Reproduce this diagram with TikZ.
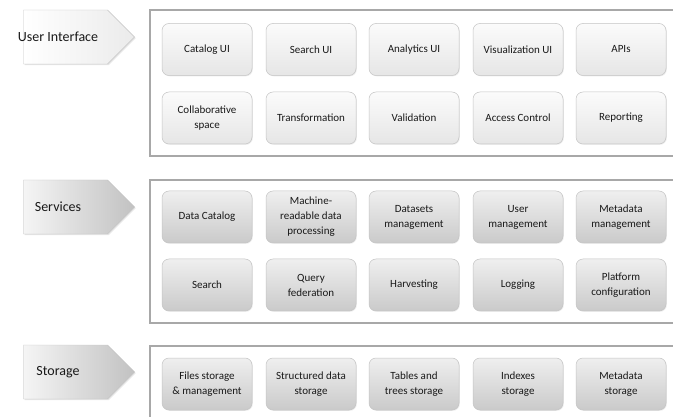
\documentclass[tikz,border=0pt]{standalone}
\usepackage{fontspec}
\setmainfont{Carlito}
\usepackage{tikz}
\usetikzlibrary{shapes.symbols, shadows, positioning}

\definecolor{panelgray}{HTML}{A8A8A8}
\definecolor{boxedge}{HTML}{C4C4C4}
\definecolor{uitop}{HTML}{FBFBFB}
\definecolor{uibot}{HTML}{E6E6E6}
\definecolor{svtop}{HTML}{EFEFEF}
\definecolor{svbot}{HTML}{CACACA}

\tikzset{
	layer arrow/.style={signal, signal to=east, signal pointer angle=90, draw=boxedge, line width=0.4pt,
		minimum width=111pt, minimum height=54pt, inner sep=0pt,
		drop shadow={opacity=0.2, shadow xshift=1.2pt, shadow yshift=-1.2pt}},
	layer label/.style={font=\fontsize{14}{16}\selectfont, inner sep=0pt, text=black!90},
	panel/.style={draw=panelgray, line width=1.4pt, fill=white},
	unit box/.style={rounded corners=7pt, draw=boxedge, line width=0.5pt,
		minimum width=90pt, minimum height=52pt, inner sep=1pt, align=center,
		font=\fontsize{11}{15}\selectfont, text=black!90,
		drop shadow={opacity=0.15, shadow xshift=0.8pt, shadow yshift=-0.8pt}},
	ui box/.style={unit box, top color=uitop, bottom color=uibot},
	sv box/.style={unit box, top color=svtop, bottom color=svbot}
}

\begin{document}
\begin{tikzpicture}[x=1pt, y=-1pt]
		\useasboundingbox (0,0) rectangle (673,417);
		\clip (0,0) rectangle (673,417);
		
		% layer arrows
		\node[layer arrow, left color=white, right color=black!8] (uiarrow) at (65.5,37) {};
		\node[layer label] (uilabel) at (58,37) {User Interface};
		
		\node[layer arrow, left color=black!4, right color=black!24] (svarrow) at (65.5,207) {};
		\node[layer label] (svlabel) at (58,207) {Services};
		
		\node[layer arrow, left color=black!4, right color=black!24] (starrow) at (65.5,372) {};
		\node[layer label] (stlabel) at (58,372) {Storage};
		
		% panels
		\draw[panel] (150,10) rectangle (690,156);
		\draw[panel] (150,180) rectangle (690,323);
		\draw[panel] (150,346) rectangle (690,440);
		
		% user interface
		\node[ui box] (catui) at (207,49.5) {Catalog UI};
		\node[ui box] (searchui) at (311,49.5) {Search UI};
		\node[ui box] (anaui) at (414,49.5) {Analytics UI};
		\node[ui box] (visui) at (518,49.5) {Visualization UI};
		\node[ui box] (apis) at (621,49.5) {APIs};
		
		\node[ui box] (collab) at (207,118) {Collaborative\\space};
		\node[ui box] (transf) at (311,118) {Transformation};
		\node[ui box] (valid) at (414,118) {Validation};
		\node[ui box] (access) at (518,118) {Access Control};
		\node[ui box] (report) at (621,118) {Reporting};
		
		% services
		\node[sv box] (datacat) at (207,217) {Data Catalog};
		\node[sv box] (machine) at (311,217) {Machine-\\readable data\\processing};
		\node[sv box] (datasets) at (414,217) {Datasets\\management};
		\node[sv box] (usermgmt) at (518,217) {User\\management};
		\node[sv box] (metamgmt) at (621,217) {Metadata\\management};
		
		\node[sv box] (search) at (207,285) {Search};
		\node[sv box] (queryfed) at (311,285) {Query\\federation};
		\node[sv box] (harvest) at (414,285) {Harvesting};
		\node[sv box] (logging) at (518,285) {Logging};
		\node[sv box] (platform) at (621,285) {Platform\\configuration};
		
		% storage
		\node[sv box] (files) at (207,384) {Files storage\\\& management};
		\node[sv box] (structured) at (311,384) {Structured data\\storage};
		\node[sv box] (tables) at (414,384) {Tables and\\trees storage};
		\node[sv box] (indexes) at (518,384) {Indexes\\storage};
		\node[sv box] (metastore) at (621,384) {Metadata\\storage};
\end{tikzpicture}
\end{document}
